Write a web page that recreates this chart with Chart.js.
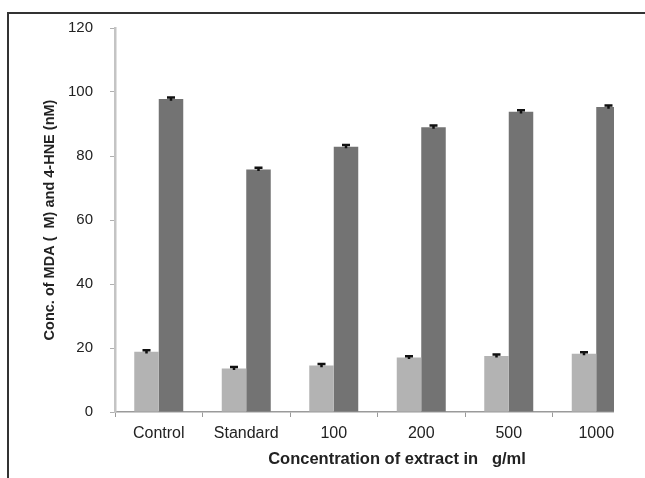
<!DOCTYPE html>
<html>
<head>
<meta charset="utf-8">
<script src="https://cdn.jsdelivr.net/npm/chart.js@4"></script>
<style>
  html, body { margin: 0; padding: 0; background: #fff; }
  #page { position: relative; width: 645px; height: 478px; overflow: hidden; }
  #frame { position: absolute; left: 7px; top: 12px; width: 645px; height: 470px;
           border-top: 2px solid #333; border-left: 2px solid #333; }
  #clip { position: absolute; left: 0; top: 0; width: 614px; height: 478px; overflow: hidden; }
  #chart { position: absolute; left: 0; top: 0; }
</style>
</head>
<body>
<div id="page">
  <div id="frame"></div>
  <div id="clip"><canvas id="chart" width="700" height="478"></canvas></div>
</div>
<script>
const categories = ['Control', 'Standard', '100', '200', '500', '1000'];
const mdaValues = [18.8, 13.6, 14.5, 17.0, 17.5, 18.2];
const hneValues = [97.8, 75.8, 82.9, 89.0, 93.8, 95.3];
const mdaErrors = [0.5, 0.5, 0.5, 0.4, 0.5, 0.5];
const hneErrors = [0.5, 0.5, 0.5, 0.5, 0.5, 0.5];
const yTicks = [0, 20, 40, 60, 80, 100, 120];

const fontFamily = "'Liberation Sans', Arial, sans-serif";

// small error bars on top of every bar
const errorBars = {
    id: 'errorBars',
    afterDatasetsDraw(chart) {
        const ctx = chart.ctx;
        const y = chart.scales.y;
        const errs = [mdaErrors, hneErrors];
        ctx.save();
        ctx.strokeStyle = '#111';
        ctx.lineWidth = 2.5;
        chart.data.datasets.forEach((ds, di) => {
            chart.getDatasetMeta(di).data.forEach((bar, i) => {
                const v = ds.data[i];
                const e = errs[di][i];
                const top = y.getPixelForValue(v + e);
                const bot = y.getPixelForValue(v - e);
                ctx.beginPath();
                ctx.moveTo(bar.x, bot);
                ctx.lineTo(bar.x, top);
                ctx.moveTo(bar.x - 4, top);
                ctx.lineTo(bar.x + 4, top);
                ctx.stroke();
            });
        });
        ctx.restore();
    }
};

// x axis title, drawn a bit right of the plot centre like the original
const xTitle = {
    id: 'xTitle',
    afterDraw(chart) {
        const ctx = chart.ctx;
        ctx.save();
        ctx.font = 'bold 16.5px ' + fontFamily;
        ctx.fillStyle = '#222';
        ctx.textAlign = 'center';
        ctx.textBaseline = 'middle';
        ctx.fillText('Concentration of extract in   g/ml', 397, 459);
        ctx.restore();
    }
};

new Chart(document.getElementById('chart'), {
    type: 'bar',
    data: {
        labels: categories,
        datasets: [
            { label: 'MDA', data: mdaValues, backgroundColor: '#b3b3b3' },
            { label: '4-HNE', data: hneValues, backgroundColor: '#737373' }
        ]
    },
    options: {
        responsive: false,
        animation: false,
        layout: { padding: { left: 0, right: 60, top: 28, bottom: 0 } },
        datasets: { bar: { categoryPercentage: 0.56, barPercentage: 1.0 } },
        plugins: { legend: { display: false }, tooltip: { enabled: false } },
        scales: {
            x: {
                afterFit: s => { s.height = 66; },
                border: { color: '#9a9a9a', width: 1.5 },
                grid: { drawOnChartArea: false, tickLength: 5, color: '#9a9a9a' },
                ticks: { color: '#222', padding: 7, font: { family: fontFamily, size: 16 } }
            },
            y: {
                min: 0,
                max: 120,
                afterFit: s => { s.width = 115; },
                afterBuildTicks: s => { s.ticks = yTicks.map(v => ({ value: v })); },
                border: { color: '#c4c4c4', width: 2.5 },
                grid: { drawOnChartArea: false, tickLength: 5, color: '#b0b0b0' },
                ticks: { color: '#222', padding: 17, font: { family: fontFamily, size: 15 } },
                title: {
                    display: true,
                    text: 'Conc. of MDA (  M) and 4-HNE (nM)',
                    color: '#222',
                    padding: { top: 41, bottom: 0 },
                    font: { family: fontFamily, size: 14.5, weight: 'bold' }
                }
            }
        }
    },
    plugins: [errorBars, xTitle]
});
</script>
</body>
</html>
